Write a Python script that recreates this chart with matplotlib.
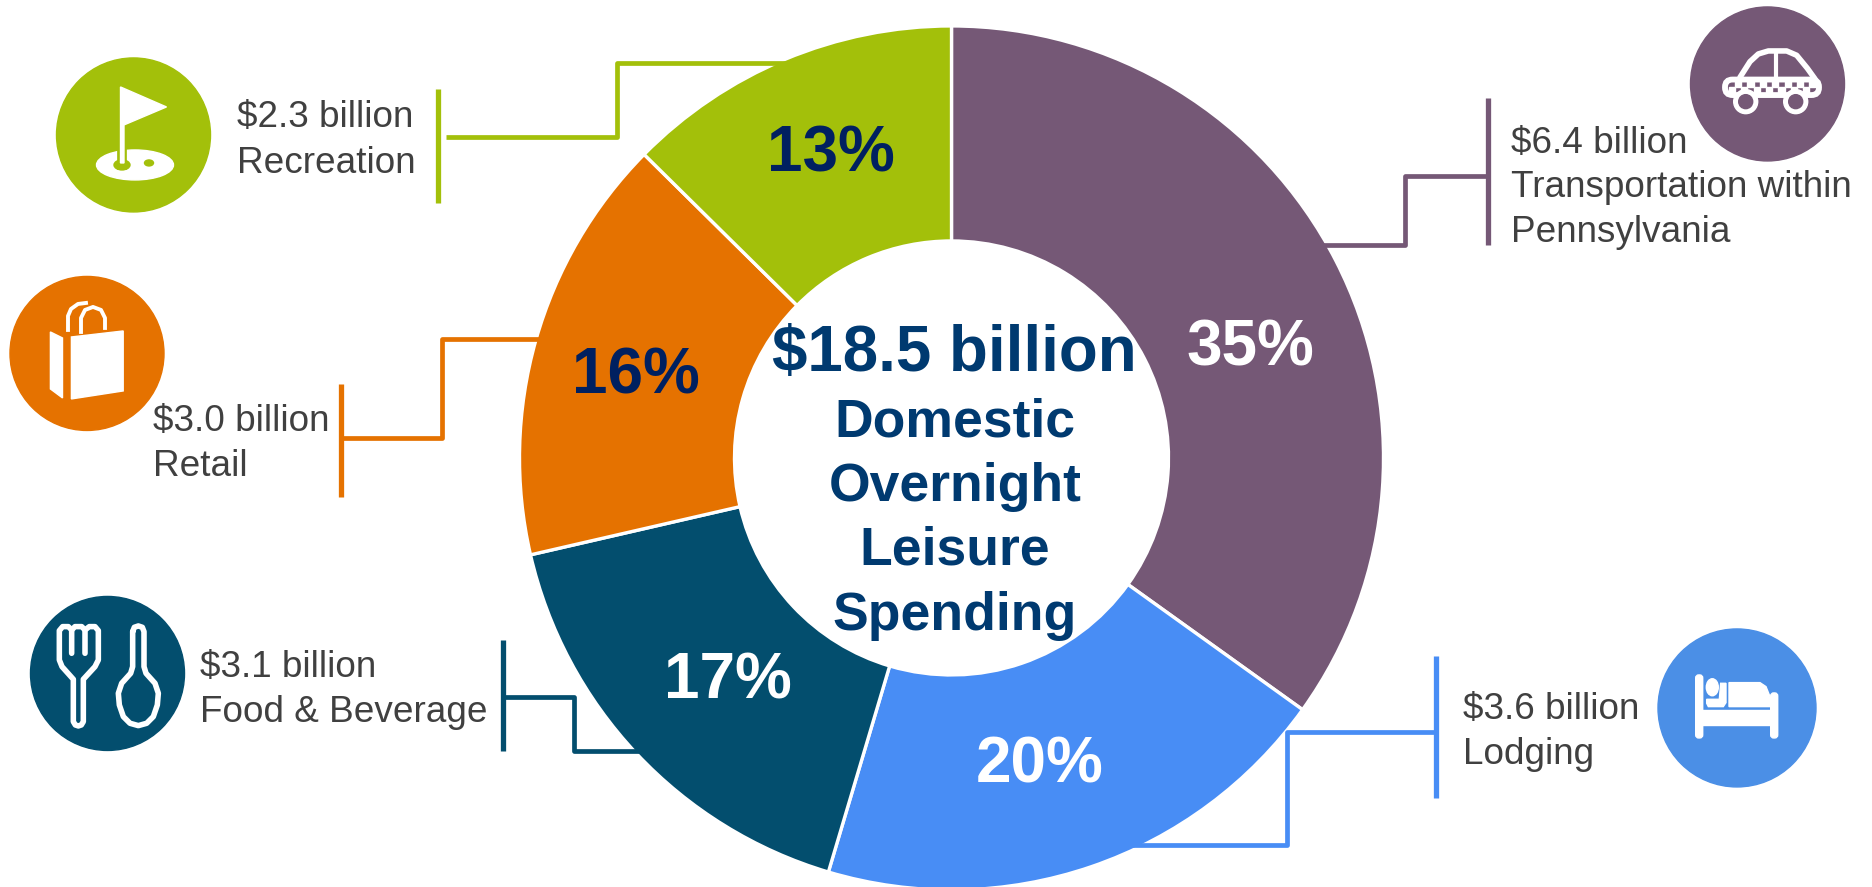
import matplotlib
matplotlib.use("Agg")
import matplotlib.pyplot as plt
from matplotlib.patches import Circle, Ellipse, Polygon, FancyBboxPatch

plt.rcParams["font.family"] = "Liberation Sans"

# clockwise from 12 o'clock
categories = ["Transportation within\nPennsylvania", "Lodging", "Food & Beverage", "Retail", "Recreation"]
slice_share = [34.9, 19.7, 16.8, 16.0, 12.6]
pct_labels = ["35%", "20%", "17%", "16%", "13%"]
amount_labels = ["$6.4 billion", "$3.6 billion", "$3.1 billion", "$3.0 billion", "$2.3 billion"]
center_title = "$18.5 billion"
center_lines = ["Domestic", "Overnight", "Leisure", "Spending"]

PURPLE = "#755876"
BLUE = "#488DF5"
TEAL = "#034E6E"
ORANGE = "#E57200"
GREEN = "#A3C00A"
slice_colors = [PURPLE, BLUE, TEAL, ORANGE, GREEN]
GREY = "#404040"
NAVY = "#002060"
CENTER_BLUE = "#003A70"

fig = plt.figure(figsize=(18.72, 8.871), dpi=100)
ax = fig.add_axes([0, 0, 1, 1])

# axis units are image pixels, y pointing down, so angles run clockwise
ax.pie(slice_share, colors=slice_colors, center=(951.5, 458), radius=432,
       startangle=-90, counterclock=True,
       wedgeprops=dict(width=215, edgecolor="white", linewidth=2.4, zorder=3))
ax.set_xlim(0, 1872)
ax.set_ylim(887, 0)
ax.axis("off")


def connector(color, bar_x, bar_y0, bar_y1, xs, ys):
    ax.plot([bar_x, bar_x], [bar_y0, bar_y1], color=color, lw=3.8, solid_capstyle="butt", zorder=3.5)
    ax.plot(xs, ys, color=color, lw=3.4, solid_joinstyle="round", solid_capstyle="butt", zorder=3.5)


connector(GREEN, 438, 89, 203, [446, 617, 617, 790], [137, 137, 63, 63])
connector(ORANGE, 341, 384, 497, [341, 442, 442, 545], [438, 438, 339, 339])
connector(TEAL, 503, 640, 751, [503, 574, 574, 645], [697, 697, 751, 751])
connector(PURPLE, 1488, 98, 245, [1488, 1405, 1405, 1320], [176, 176, 245, 245])
connector(BLUE, 1435.5, 656, 798, [1435, 1287, 1287, 1130], [732, 732, 845, 845])


def label(x, baselines, amount, name):
    lines = [amount] + name.split("\n")
    for yb, line in zip(baselines, lines):
        ax.text(x, yb, line, color=GREY, fontsize=26.6, ha="left", va="baseline", zorder=5)


label(1511, [153, 197, 242], amount_labels[0], categories[0])
label(1463, [719, 764], amount_labels[1], categories[1])
label(200, [677, 722], amount_labels[2], categories[2])
label(153, [431, 476], amount_labels[3], categories[3])
label(237, [127, 173], amount_labels[4], categories[4])

pct_colors = ["white", "white", "white", NAVY, NAVY]
pct_xy = [(1250, 365), (1040, 782), (728, 698), (636, 393), (831, 171)]
for (px, py), txt, c in zip(pct_xy, pct_labels, pct_colors):
    ax.text(px, py, txt, color=c, fontsize=46, fontweight="bold", ha="center", va="baseline", zorder=6)

ax.text(954.5, 371, center_title, color=CENTER_BLUE, fontsize=45.8, fontweight="bold",
        ha="center", va="baseline", zorder=6)
for yb, line in zip([436, 501, 564, 630], center_lines):
    ax.text(955, yb, line, color=CENTER_BLUE, fontsize=38.5, fontweight="bold",
            ha="center", va="baseline", zorder=6)

# icon discs
ax.add_patch(Circle((133.5, 135), 77, color=GREEN, zorder=4))
ax.add_patch(Circle((87, 353.5), 77, color=ORANGE, zorder=4))
ax.add_patch(Circle((107.5, 673.5), 77, color=TEAL, zorder=4))
ax.add_patch(Circle((1767.5, 84), 77, color=PURPLE, zorder=4))
ax.add_patch(Circle((1737, 708), 79, color="#4B8FE6", zorder=4))

W = dict(color="white", zorder=5)


def zoomed(pts, x0, y0):
    # icon outlines were traced on 3x crops
    return [(x0 + zx / 3, y0 + zy / 3) for zx, zy in pts]


def stroke(pts, lw=3.6):
    ax.plot([p[0] for p in pts], [p[1] for p in pts], color="white", lw=lw,
            solid_joinstyle="round", solid_capstyle="round", zorder=5)


# golf flag
ax.add_patch(Ellipse((135, 165), 77, 30, **W))
ax.add_patch(Ellipse((122, 165), 16, 10, color=GREEN, zorder=5))
ax.add_patch(Ellipse((149, 163), 9, 6, color=GREEN, zorder=5))
ax.plot([122, 122], [150, 165], color=GREEN, lw=7, zorder=5)
ax.add_patch(Polygon([(120.5, 87), (166.5, 107), (124, 125), (124, 163), (120.5, 163)], closed=True, **W))

# shopping bag
ax.add_patch(Polygon([(71.4, 337), (123.2, 331), (123.2, 391), (71.4, 399)], closed=True, **W))
ax.add_patch(Polygon([(50.4, 332), (62.5, 338), (62.5, 398), (50.4, 389)], closed=True, **W))
ax.plot([68, 68, 71, 78, 86], [330, 316, 309, 304, 303], color="white", lw=2.8, zorder=5)
ax.plot([81, 81, 85, 93, 101, 105, 105], [332, 318, 310, 307, 310, 318, 328], color="white", lw=2.8, zorder=5)

# fork and spoon
stroke(zoomed([(95, 130), (95, 60), (85, 50), (68, 50), (58, 62), (58, 150), (66, 170), (100, 208),
               (100, 335), (106, 345), (115, 348), (124, 345), (130, 335), (130, 208), (165, 170),
               (175, 150), (175, 62), (165, 50), (148, 50), (135, 60), (135, 130)], 40, 610), lw=4)
stroke(zoomed([(95, 60), (105, 50), (125, 50), (135, 60)], 40, 610), lw=4)
stroke(zoomed([(278, 65), (283, 52), (295, 48), (307, 52), (312, 65), (312, 170), (318, 190), (345, 220),
               (355, 250), (352, 285), (340, 320), (320, 340), (295, 347), (270, 340), (250, 320),
               (238, 285), (235, 250), (245, 220), (272, 190), (278, 170), (278, 65)], 40, 610), lw=4)

# taxi
stroke(zoomed([(120, 142), (150, 95), (175, 72), (205, 63), (260, 63), (290, 76), (322, 115), (345, 147)], 1700, 30), lw=4)
stroke([(1776, 53), (1776, 78)], lw=3)
ax.add_patch(FancyBboxPatch((1725, 79.6), 94, 15.5, boxstyle="round,pad=0,rounding_size=7.5",
                            fc="none", ec="white", lw=4.2, zorder=5))
for i in range(7):
    tx = 1735 + i * 12.4
    ax.add_patch(Polygon([(tx, 81), (tx + 6.2, 81), (tx + 6.2, 87.5), (tx, 87.5)], closed=True, **W))
    bx = tx - 6.2
    ax.add_patch(Polygon([(bx, 87.5), (bx + 6.2, 87.5), (bx + 6.2, 94), (bx, 94)], closed=True, **W))
for wx in (1745.7, 1795.7):
    ax.add_patch(Circle((wx, 101.7), 12, color="white", zorder=6))
    ax.add_patch(Circle((wx, 101.7), 7, color=PURPLE, zorder=6))

# bed
ax.add_patch(FancyBboxPatch((1695.7, 675), 7, 63, boxstyle="round,pad=0,rounding_size=3", **W))
ax.add_patch(FancyBboxPatch((1770.7, 693), 7, 45, boxstyle="round,pad=0,rounding_size=3", **W))
ax.add_patch(Polygon(zoomed([(65, 150), (275, 150), (275, 195), (65, 195)], 1680, 660), closed=True, **W))
ax.add_patch(Ellipse((1712.3, 687.3), 12, 17, **W))
ax.add_patch(Polygon(zoomed([(80, 118), (118, 118), (122, 70), (138, 70), (138, 128), (130, 140),
                             (85, 140), (80, 130)], 1680, 660), closed=True, **W))
ax.add_patch(Polygon(zoomed([(147, 68), (240, 68), (258, 80), (270, 110), (270, 140), (147, 140)],
                            1680, 660), closed=True, **W))

fig.savefig("out.png", dpi=100, facecolor="white")
